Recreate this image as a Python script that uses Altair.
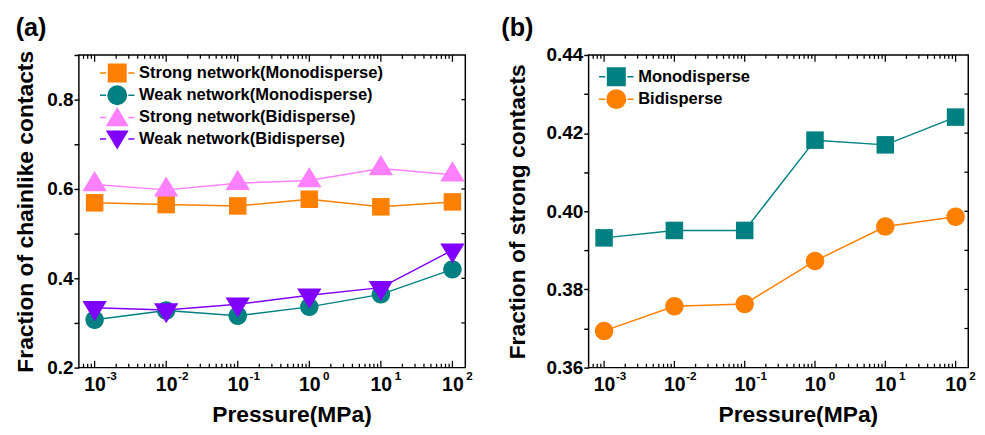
import altair as alt
import pandas as pd

FONT = "Arial, Liberation Sans, sans-serif"

# ---------------- data ----------------
pressure = [0.001, 0.01, 0.1, 1, 10, 100]

a_names = ["Strong network(Monodisperse)", "Weak network(Monodisperse)",
           "Strong network(Bidisperse)", "Weak network(Bidisperse)"]
a_strong_mono = [0.569, 0.565, 0.562, 0.577, 0.560, 0.571]
a_weak_mono = [0.307, 0.328, 0.316, 0.336, 0.364, 0.420]
a_strong_bi = [0.610, 0.598, 0.613, 0.619, 0.646, 0.632]
a_weak_bi = [0.334, 0.329, 0.342, 0.362, 0.379, 0.463]
a_colors = ["#FF8000", "#008080", "#FF80FF", "#8000FF"]

b_names = ["Monodisperse", "Bidisperse"]
b_mono = [0.3932, 0.3951, 0.3951, 0.4182, 0.4170, 0.4241]
b_bi = [0.3694, 0.3757, 0.3763, 0.3873, 0.3961, 0.3986]
b_colors = ["#008080", "#FF8000"]

x_major = [0.001, 0.01, 0.1, 1, 10, 100]
XMIN, XMAX = 10 ** -3.22, 10 ** 2.18
x_minor = [k * 10.0 ** d for d in range(-4, 3) for k in range(2, 10)]
x_minor = [v for v in x_minor if XMIN < v < XMAX]

# marker shapes (unit box paths)
SQ = "M-0.95,-0.95H0.95V0.95H-0.95Z"
CI = "M1,0A1,1,0,1,1,-1,0A1,1,0,1,1,1,0Z"
TU = "M0,-1.45L1.32,0.73L-1.32,0.73Z"
TD = "M0,1.45L1.32,-0.73L-1.32,-0.73Z"
STUBS = "M-1.87,0H-1.2M1.2,0H1.87"
L_SQ = SQ + STUBS
L_CI = CI + STUBS
L_TU = "M0,-1.0L1.1,0.85L-1.1,0.85Z" + STUBS
L_TD = "M0,1.0L1.1,-0.85L-1.1,-0.85Z" + STUBS


def series_df(vals):
    return pd.DataFrame({"p": pressure, "v": vals})


def make_panel(names, vals_list, colors, shapes, leg_shapes, ydom, yvals,
               ylabel_expr, ytitle, ytp, W, H, title, title_dx, legx, legy):
    xs = alt.Scale(type="log", domain=[XMIN, XMAX], nice=False)
    ys = alt.Scale(domain=ydom, nice=False, zero=False)

    main_x_axis = alt.Axis(
        orient="bottom",
        values=x_major, labelExpr="'10'", ticks=False, tickSize=0,
        domain=False, grid=False, labelPadding=8, labelFontSize=20,
        labelFont=FONT, labelFontWeight="bold", labelColor="black",
        labelFlush=False, labelOverlap=False, labelBound=False,
        title="Pressure(MPa)", titleFont=FONT, titleFontSize=23.5,
        titleFontWeight="bold", titleColor="black", titlePadding=9,
        titleX=W / 2 + 20, titleAlign="center")
    sup_x_axis = alt.Axis(
        orient="bottom",
        values=x_major,
        labelExpr="round(log(datum.value)/LN10) < 0 ? '-' + (-round(log(datum.value)/LN10)) : '' + round(log(datum.value)/LN10)",
        ticks=False, tickSize=0, domain=False, grid=False, labelPadding=3,
        labelFontSize=12, labelFont=FONT, labelFontWeight="bold",
        labelColor="black", labelFlush=False, labelOverlap=False,
        labelBound=False, labelOffset=17, title=None)
    y_axis = alt.Axis(
        values=yvals, labelExpr=ylabel_expr, tickSize=5, tickWidth=1.5,
        tickColor="black", domain=False, grid=False, labelPadding=1,
        labelFontSize=19.5, labelFont=FONT, labelFontWeight="bold",
        labelColor="black", labelFlush=False, labelOverlap=False,
        title=ytitle, titleFont=FONT, titleFontSize=23.5,
        titleFontWeight="bold", titleColor="black", titlePadding=ytp)

    layers = []
    # inward ticks (top/bottom/right)
    maj = pd.DataFrame({"t": x_major})
    mnr = pd.DataFrame({"t": x_minor})
    for d, ln in ((maj, 7), (mnr, 4)):
        layers.append(alt.Chart(d).mark_rule(color="black", strokeWidth=1.3).encode(
            x=alt.X("t:Q", scale=xs, axis=None), y=alt.value(H), y2=alt.value(H - ln)))
        layers.append(alt.Chart(d).mark_rule(color="black", strokeWidth=1.3).encode(
            x=alt.X("t:Q", scale=xs, axis=None), y=alt.value(0), y2=alt.value(ln)))
    ry = pd.DataFrame({"t": yvals[1:-1]})
    layers.append(alt.Chart(ry).mark_rule(color="black", strokeWidth=1.3).encode(
        y=alt.Y("t:Q", scale=ys, axis=None), x=alt.value(W - 4), x2=alt.value(W)))

    for i, (nm, vals, c, shp) in enumerate(zip(names, vals_list, colors, shapes)):
        df = series_df(vals)
        layers.append(alt.Chart(df).mark_line(color=c, strokeWidth=1.5).encode(
            x=alt.X("p:Q", scale=xs, axis=main_x_axis if i == 0 else None),
            y=alt.Y("v:Q", scale=ys, axis=y_axis if i == 0 else None)))
        layers.append(alt.Chart(df).mark_point(
            shape=shp, filled=True, fill=c, size=361, opacity=1, strokeWidth=0).encode(
            x=alt.X("p:Q", scale=xs, axis=sup_x_axis if i == 0 else None),
            y=alt.Y("v:Q", scale=ys, axis=None)))

    leg_df = pd.concat([series_df(v).assign(s=n) for n, v in zip(names, vals_list)])
    leg = alt.Legend(title=None, orient="none", legendX=legx, legendY=legy,
                     symbolSize=361, symbolStrokeWidth=1.5, symbolOpacity=1,
                     labelFont=FONT, labelFontSize=17, labelFontWeight="bold",
                     labelColor="black", labelOffset=12, labelLimit=400,
                     rowPadding=-3, padding=0)
    layers.append(alt.Chart(leg_df).mark_point(filled=True, opacity=0, size=361).encode(
        x=alt.X("p:Q", scale=xs, axis=None),
        y=alt.Y("v:Q", scale=ys, axis=None),
        shape=alt.Shape("s:N", scale=alt.Scale(domain=names, range=leg_shapes), legend=leg),
        fill=alt.Fill("s:N", scale=alt.Scale(domain=names, range=colors), legend=leg),
        stroke=alt.Stroke("s:N", scale=alt.Scale(domain=names, range=colors), legend=leg)))

    return alt.layer(*layers).resolve_axis(x="independent", y="independent").properties(
        width=W, height=H,
        title=alt.TitleParams(text=title, anchor="start", fontSize=26, font=FONT,
                              fontWeight="bold", color="black", offset=5, dx=title_dx))


pa = make_panel(a_names, [a_strong_mono, a_weak_mono, a_strong_bi, a_weak_bi],
                a_colors, [SQ, CI, TU, TD], [L_SQ, L_CI, L_TU, L_TD],
                [0.2, 0.9], [0.2, 0.3, 0.4, 0.5, 0.6, 0.7, 0.8, 0.9],
                "round(datum.value*10) % 2 == 0 ? format(datum.value, '.1f') : ''",
                "Fraction of chainlike contacts", 10, 398, 322, "(a)", 2, 29, 8)
pb = make_panel(b_names, [b_mono, b_bi], b_colors, [SQ, CI], [L_SQ, L_CI],
                [0.36, 0.44], [0.36, 0.37, 0.38, 0.39, 0.40, 0.41, 0.42, 0.43, 0.44],
                "round(datum.value*100) % 2 == 0 ? format(datum.value, '.2f') : ''",
                "Fraction of strong contacts", 17, 391, 322, "(b)", -5, 18, 12)

chart = alt.hconcat(pa, pb, spacing=28).resolve_scale(
    x="independent", y="independent", shape="independent",
    fill="independent", stroke="independent").resolve_legend(
    shape="independent", fill="independent", stroke="independent").properties(
    padding={"left": 5, "top": 0, "right": 0, "bottom": 0}, background="white"
).configure_view(stroke="black", strokeWidth=1.5)

chart.save("out.html", embed_options={"renderer": "svg", "actions": False})
